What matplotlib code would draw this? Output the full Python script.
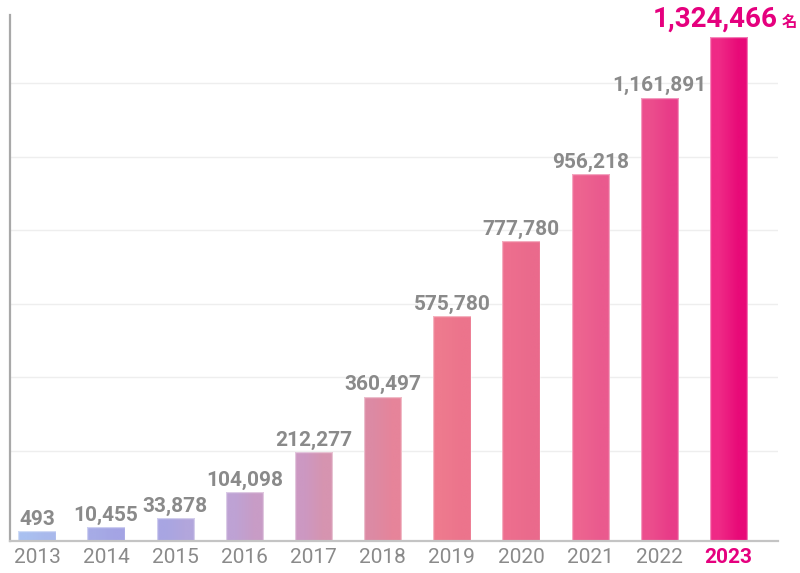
import matplotlib
matplotlib.use("Agg")
import matplotlib.pyplot as plt
import numpy as np
from matplotlib.colors import to_rgb

# ---- data ----
years = ["2013", "2014", "2015", "2016", "2017", "2018", "2019", "2020", "2021", "2022", "2023"]
members = [493, 10455, 33878, 104098, 212277, 360497, 575780, 777780, 956218, 1161891, 1324466]
value_labels = ["493", "10,455", "33,878", "104,098", "212,277", "360,497", "575,780",
                "777,780", "956,218", "1,161,891", "1,324,466"]
unit_label = "名"

# ---- style ----
left_colors = ["#a9c0f0", "#a6abe6", "#a8a5e2", "#bea2d4", "#cc98c2", "#dc8aa4",
               "#ee7a8e", "#ed6e8e", "#ed6490", "#ec4e8d", "#ef2a86"]
right_colors = ["#a9b9ec", "#a4a4e4", "#b2a6dc", "#c89cc6", "#d694b0", "#e6849a",
                "#ec748c", "#ea6a8c", "#ea5a8e", "#e83c88", "#e80a78"]
grid_values = [215000, 413000, 609000, 807000, 1003000, 1201000]
y_bottom, y_top = -26800, 1383400
grey = "#8a8a8a"
accent = "#e5007e"

plt.rcParams["font.family"] = ["Roboto", "DejaVu Sans"]

fig = plt.figure(figsize=(8, 5.73), dpi=100)
ax = fig.add_axes([0.0125, 0.05585, 0.96, 0.91797])

x = np.arange(len(years))
bars = ax.bar(x, np.array(members) - y_bottom, bottom=y_bottom, width=0.54,
              color="none", edgecolor=(1, 1, 1, 0.45), linewidth=1.0, zorder=3)

for b, lc, rc in zip(bars, left_colors, right_colors):
    grad = np.array([[to_rgb(lc), to_rgb(rc)]])
    x0, w = b.get_x(), b.get_width()
    y0, h = b.get_y(), b.get_height()
    im = ax.imshow(grad, extent=[x0, x0 + w, y0, y0 + h], aspect="auto",
                   interpolation="bilinear", origin="lower", zorder=2)
    im.set_clip_path(b)

ax.set_xlim(-0.39, 10.716)
ax.set_ylim(y_bottom, y_top)

ax.set_yticks(grid_values)
ax.yaxis.grid(True, color="#eeeeee", linewidth=1.0, zorder=0)
ax.tick_params(axis="y", left=False, labelleft=False)

ax.set_xticks(x)
ax.set_xticklabels(years)
ax.tick_params(axis="x", length=0, pad=5, labelsize=15, labelcolor=grey)
last = ax.get_xticklabels()[-1]
last.set_color(accent)
last.set_fontweight("bold")

for s in ["top", "right"]:
    ax.spines[s].set_visible(False)
ax.spines["left"].set_color("#a8a8a8")
ax.spines["left"].set_linewidth(1.6)
ax.spines["bottom"].set_color("#c4c4c4")
ax.spines["bottom"].set_linewidth(1.6)
ax.spines["bottom"].set_zorder(4)

for i, (xi, v, lab) in enumerate(zip(x, members, value_labels)):
    if i < len(years) - 1:
        ax.annotate(lab, (xi, v), xytext=(0, 4.5), textcoords="offset points",
                    ha="center", va="baseline", fontsize=15, fontweight="bold",
                    color=grey, zorder=5)
    else:
        ax.annotate(lab, (xi, v), xytext=(35.6, 7.2), textcoords="offset points",
                    ha="right", va="baseline", fontsize=20, fontweight="bold",
                    color=accent, zorder=5, annotation_clip=False)
        ax.annotate(unit_label, (xi, v), xytext=(38.2, 7.2), textcoords="offset points",
                    ha="left", va="baseline", fontsize=11, fontweight="bold",
                    color=accent, family=["Noto Sans CJK JP", "DejaVu Sans"],
                    zorder=5, annotation_clip=False)

fig.savefig("out.png", dpi=100)
